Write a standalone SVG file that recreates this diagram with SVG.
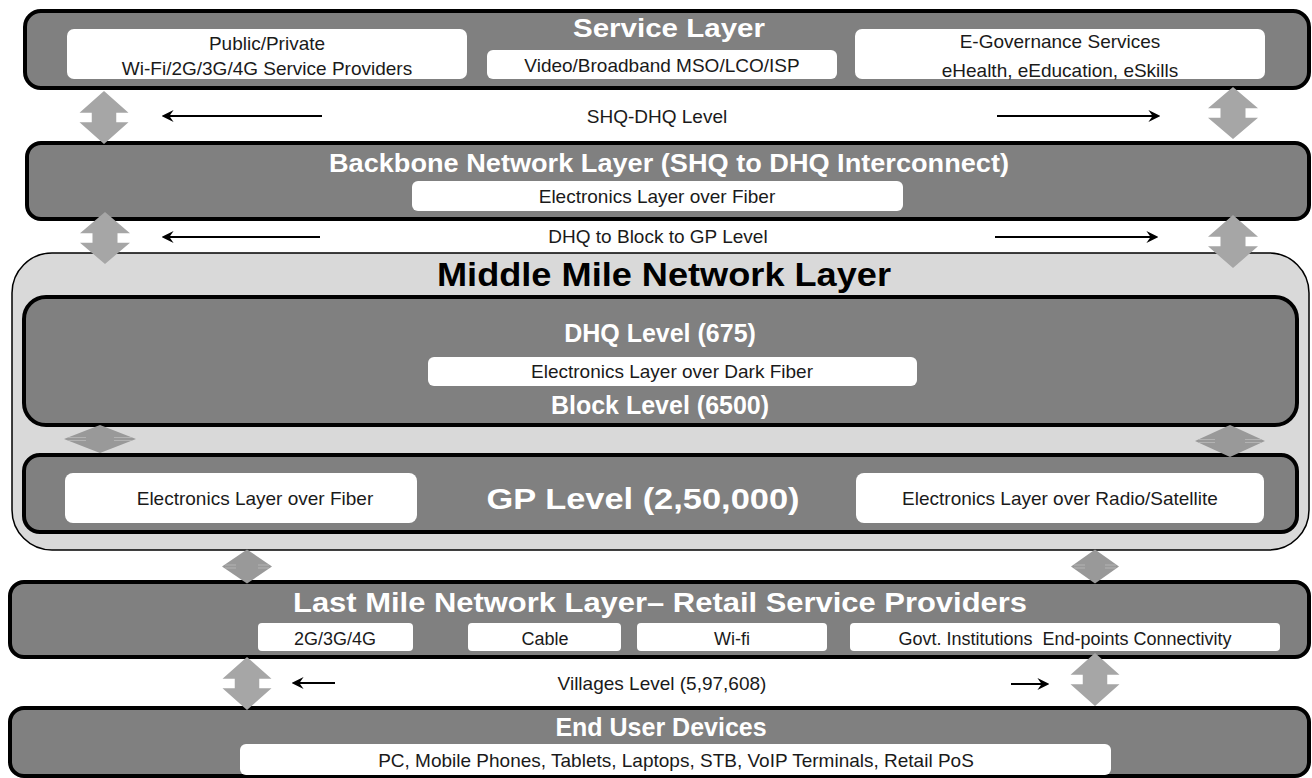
<svg xmlns="http://www.w3.org/2000/svg" xmlns:xlink="http://www.w3.org/1999/xlink" width="1312" height="778" viewBox="0 0 1312 778">
  <style>
    .layer { fill: #808080; stroke: #000; stroke-width: 4; }
    .mm { fill: #d9d9d9; stroke: #000; stroke-width: 1.5; }
    .pill { fill: #fff; }
    .t { font-family: "Liberation Sans", Arial, sans-serif; font-size: 19px; fill: #1a1a1a; text-anchor: middle; }
    .s { font-size: 18px; }
    .h { font-family: "Liberation Sans", Arial, sans-serif; font-weight: bold; fill: #fff; text-anchor: middle; }
    .dk { fill: #000; }
    .dbl { fill: #a6a6a6; }
    .dbl2 { fill: #999; }
    .seam { stroke: #b3b3b3; stroke-width: 1; }
    .arrow { stroke: #000; stroke-width: 2; fill: none; marker-end: url(#head); }
  </style>
  <defs>
    <!-- double-headed block arrow, 100 x 100 units centred on 0,0 -->
    <path id="dblArrow" d="M0,-50 L50,-9 L25,-9 L25,9 L50,9 L0,50 L-50,9 L-25,9 L-25,-9 L-50,-9 Z"/>
    <!-- squashed variant: a plain rhombus -->
    <path id="flatArrow" d="M0,-50 L50,0 L0,50 L-50,0 Z"/>
    <marker id="head" viewBox="0 0 10 10" refX="8" refY="5" markerWidth="12" markerHeight="12" orient="auto" markerUnits="userSpaceOnUse">
      <path d="M0,0 L10,5 L0,10 L3.5,5 Z" fill="#000"/>
    </marker>
  </defs>

  <!-- Service Layer -->
  <g id="service-layer">
    <rect class="layer" x="25" y="11" width="1284" height="77" rx="16"/>
    <text class="h" x="669" y="37" font-size="26" textLength="192" lengthAdjust="spacingAndGlyphs">Service Layer</text>
    <rect class="pill" x="67" y="29" width="400" height="50" rx="7"/>
    <text class="t" x="267" y="50">Public/Private</text>
    <text class="t" x="267" y="75">Wi-Fi/2G/3G/4G Service Providers</text>
    <rect class="pill" x="487" y="50" width="350" height="29" rx="6"/>
    <text class="t" x="662" y="72">Video/Broadband MSO/LCO/ISP</text>
    <rect class="pill" x="855" y="29" width="410" height="50" rx="7"/>
    <text class="t" x="1060" y="48">E-Governance Services</text>
    <text class="t" x="1060" y="77">eHealth, eEducation, eSkills</text>
  </g>

  <!-- Backbone Network Layer -->
  <g id="backbone-layer">
    <rect class="layer" x="27" y="143" width="1282" height="76" rx="14"/>
    <text class="h" x="669" y="172" font-size="25" textLength="680" lengthAdjust="spacingAndGlyphs">Backbone Network Layer (SHQ to DHQ Interconnect)</text>
    <rect class="pill" x="412" y="181" width="491" height="30" rx="6"/>
    <text class="t" x="657" y="203">Electronics Layer over Fiber</text>
  </g>

  <!-- Middle Mile Network Layer -->
  <g id="middle-mile-layer">
    <rect class="mm" x="12" y="253" width="1297" height="297" rx="40"/>
    <text class="h dk" x="664" y="286" font-size="34" textLength="454" lengthAdjust="spacingAndGlyphs">Middle Mile Network Layer</text>
  </g>

  <g id="dhq-block-level">
    <rect class="layer" x="24" y="297" width="1273" height="128" rx="22"/>
    <text class="h" x="660" y="342" font-size="25">DHQ Level (675)</text>
    <rect class="pill" x="428" y="357" width="489" height="29" rx="6"/>
    <text class="t" x="672" y="378">Electronics Layer over Dark Fiber</text>
    <text class="h" x="660" y="414" font-size="25">Block Level (6500)</text>
  </g>

  <g id="gp-level">
    <rect class="layer" x="24" y="455" width="1273" height="77" rx="16"/>
    <rect class="pill" x="65" y="473" width="352" height="50" rx="8"/>
    <text class="t" x="255" y="505">Electronics Layer over Fiber</text>
    <text class="h" x="643" y="509" font-size="29" textLength="313" lengthAdjust="spacingAndGlyphs">GP Level (2,50,000)</text>
    <rect class="pill" x="856" y="473" width="408" height="50" rx="8"/>
    <text class="t" x="1060" y="505">Electronics Layer over Radio/Satellite</text>
  </g>

  <!-- Last Mile Network Layer -->
  <g id="last-mile-layer">
    <rect class="layer" x="10" y="582" width="1299" height="75" rx="14"/>
    <text class="h" x="660" y="612" font-size="28" textLength="734" lengthAdjust="spacingAndGlyphs">Last Mile Network Layer– Retail Service Providers</text>
    <rect class="pill" x="258" y="623" width="155" height="28" rx="4"/>
    <text class="t s" x="335" y="645">2G/3G/4G</text>
    <rect class="pill" x="468" y="623" width="153" height="28" rx="4"/>
    <text class="t s" x="545" y="645">Cable</text>
    <rect class="pill" x="637" y="623" width="190" height="28" rx="4"/>
    <text class="t s" x="732" y="645">Wi-fi</text>
    <rect class="pill" x="850" y="623" width="430" height="28" rx="4"/>
    <text class="t s" x="1065" y="645">Govt. Institutions&#160; End-points Connectivity</text>
  </g>

  <!-- End User Devices -->
  <g id="end-user-layer">
    <rect class="layer" x="10" y="708" width="1299" height="68" rx="14"/>
    <text class="h" x="661" y="736" font-size="25">End User Devices</text>
    <rect class="pill" x="240" y="744" width="871" height="31" rx="6"/>
    <text class="t" x="676" y="767">PC, Mobile Phones, Tablets, Laptops, STB, VoIP Terminals, Retail PoS</text>
  </g>

  <!-- Connectors: block arrows between layers and level arrows -->
  <g id="connectors">
    <use xlink:href="#dblArrow" class="dbl" transform="translate(104,117.5) scale(0.49,0.53)"/>
    <use xlink:href="#dblArrow" class="dbl" transform="translate(1233,113) scale(0.50,0.52)"/>
    <use xlink:href="#dblArrow" class="dbl" transform="translate(105,238) scale(0.50,0.52)"/>
    <use xlink:href="#dblArrow" class="dbl" transform="translate(1233,241.5) scale(0.50,0.53)"/>

    <use xlink:href="#flatArrow" class="dbl2" transform="translate(100,439) scale(0.72,0.28)"/>
    <path class="seam" d="M68,437.5 H86 M68,440.5 H86 M114,437.5 H132 M114,440.5 H132"/>
    <use xlink:href="#flatArrow" class="dbl2" transform="translate(1230,441) scale(0.70,0.32)"/>
    <path class="seam" d="M1198,439.5 H1215 M1198,442.5 H1215 M1245,439.5 H1262 M1245,442.5 H1262"/>

    <use xlink:href="#flatArrow" class="dbl2" transform="translate(247,566.5) scale(0.50,0.34)"/>
    <path class="seam" d="M225,565 H236 M225,568 H236 M258,565 H269 M258,568 H269"/>
    <use xlink:href="#flatArrow" class="dbl2" transform="translate(1095,566.5) scale(0.48,0.34)"/>
    <path class="seam" d="M1074,565 H1085 M1074,568 H1085 M1105,565 H1116 M1105,568 H1116"/>

    <use xlink:href="#dblArrow" class="dbl" transform="translate(247,683.5) scale(0.49,0.53)"/>
    <use xlink:href="#dblArrow" class="dbl" transform="translate(1095,679.5) scale(0.49,0.53)"/>

    <line class="arrow" x1="322" y1="116" x2="164" y2="116"/>
    <line class="arrow" x1="997" y1="116" x2="1158" y2="116"/>
    <line class="arrow" x1="320" y1="237" x2="164" y2="237"/>
    <line class="arrow" x1="995" y1="237" x2="1156" y2="237"/>
    <line class="arrow" x1="335" y1="683" x2="294" y2="683"/>
    <line class="arrow" x1="1011" y1="684" x2="1047" y2="684"/>

    <text class="t" x="657" y="123">SHQ-DHQ Level</text>
    <text class="t" x="658" y="243">DHQ to Block to GP Level</text>
    <text class="t" x="662" y="690">Villages Level (5,97,608)</text>
  </g>
</svg>
